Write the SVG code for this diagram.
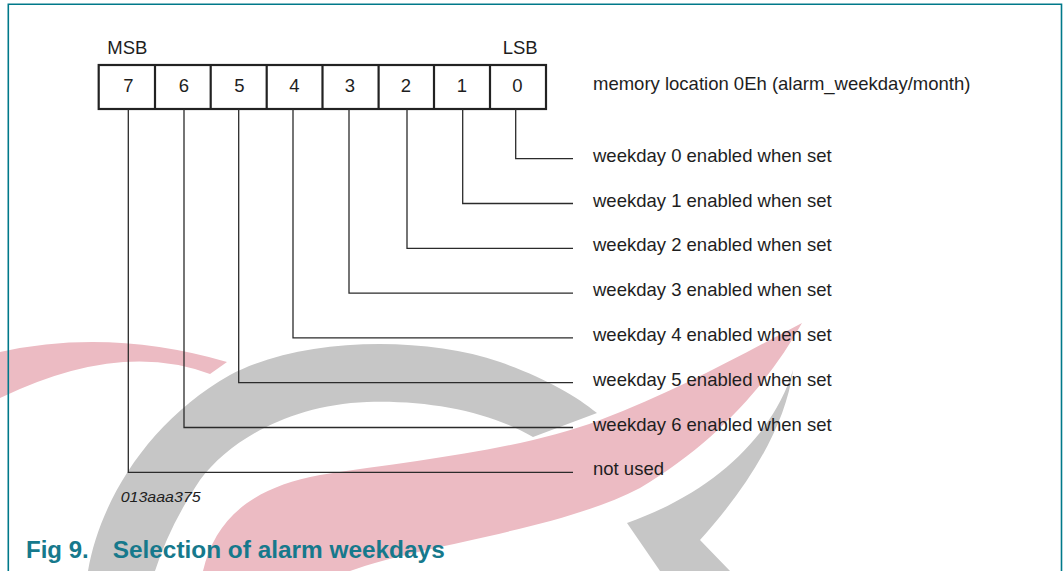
<svg xmlns="http://www.w3.org/2000/svg" width="1063" height="571" viewBox="0 0 1063 571">
<style>
.txt{font-family:"Liberation Sans",Arial,sans-serif;font-size:18.5px;fill:#1e1e1e}
.dig{text-anchor:middle}
.conn{fill:none;stroke:#2b2b2b;stroke-width:1.3}
.cell{fill:none;stroke:#222;stroke-width:2.2}
.wm-pink{fill:#ecbbc3}
.wm-gray{fill:#c6c6c6}
.cap{font-family:"Liberation Sans",Arial,sans-serif;font-weight:bold;font-size:24px;fill:#16798c}
</style>
<rect width="1063" height="571" fill="#fff"/>
<g id="watermark">
<path class="wm-pink" d="M0,352 Q110,328 227,362 L210,374 Q120,340 0,398 Z"/>
<path class="wm-gray" d="M88,571 C100,500 150,420 230,375 C300,338 420,335 500,362 C545,378 575,395 597,413 L533,437 C490,412 430,400 367,402 C290,405 230,440 200,480 C180,510 165,540 155,571 Z"/>
<path class="wm-pink" d="M203,571 C215,520 250,488 320,475 C420,460 520,450 600,420 C680,390 750,350 802,323 C770,380 720,440 640,488 C560,530 420,545 350,571 Z"/>
<path class="wm-gray" d="M793,370 C775,430 720,490 627,523 L660,571 L730,571 L700,540 C745,490 785,430 793,370 Z"/>
</g>
<path id="frame" d="M8.3,571 V4.3 H1061.5 V571" fill="none" stroke="#00798a" stroke-width="1.6"/>
<g id="register">
<rect class="cell" x="98.7" y="65" width="447.3" height="44"/>
<path class="cell" d="M155,65V109M210.7,65V109M266.7,65V109M322.5,65V109M378.6,65V109M434,65V109M490,65V109"/>
<text class="txt" x="107.3" y="54">MSB</text>
<text class="txt" x="502.7" y="54">LSB</text>
<text class="txt dig" x="128.3" y="92.3">7</text>
<text class="txt dig" x="184" y="92.3">6</text>
<text class="txt dig" x="239.5" y="92.3">5</text>
<text class="txt dig" x="294.5" y="92.3">4</text>
<text class="txt dig" x="350" y="92.3">3</text>
<text class="txt dig" x="406" y="92.3">2</text>
<text class="txt dig" x="462" y="92.3">1</text>
<text class="txt dig" x="517.3" y="92.3">0</text>
<text class="txt" x="593" y="90">memory location 0Eh (alarm_weekday/month)</text>
</g>
<g id="connectors">
<path class="conn" d="M515.7,109 V158.7 H573"/>
<path class="conn" d="M462.7,109 V203.5 H573"/>
<path class="conn" d="M407,109 V248.3 H573"/>
<path class="conn" d="M349,109 V293.1 H573"/>
<path class="conn" d="M293,109 V337.9 H573"/>
<path class="conn" d="M238.7,109 V382.7 H573"/>
<path class="conn" d="M184,109 V427.5 H573"/>
<path class="conn" d="M128.3,109 V472.3 H573"/>
</g>
<g id="labels">
<text id="l0" class="txt" x="593" y="161.7">weekday 0 enabled when set</text>
<text id="l1" class="txt" x="593" y="206.5">weekday 1 enabled when set</text>
<text id="l2" class="txt" x="593" y="251.3">weekday 2 enabled when set</text>
<text id="l3" class="txt" x="593" y="296.1">weekday 3 enabled when set</text>
<text id="l4" class="txt" x="593" y="340.9">weekday 4 enabled when set</text>
<text id="l5" class="txt" x="593" y="385.7">weekday 5 enabled when set</text>
<text id="l6" class="txt" x="593" y="430.5">weekday 6 enabled when set</text>
<text id="l7" class="txt" x="593" y="475.3">not used</text>
</g>
<text class="txt" x="120.7" y="502.3" style="font-style:italic;font-size:15px" textLength="80" lengthAdjust="spacingAndGlyphs">013aaa375</text>
<g id="caption">
<text class="cap" x="26" y="558.3">Fig 9.</text>
<text class="cap" x="112.7" y="558.3" textLength="332" lengthAdjust="spacingAndGlyphs">Selection of alarm weekdays</text>
</g>
</svg>
